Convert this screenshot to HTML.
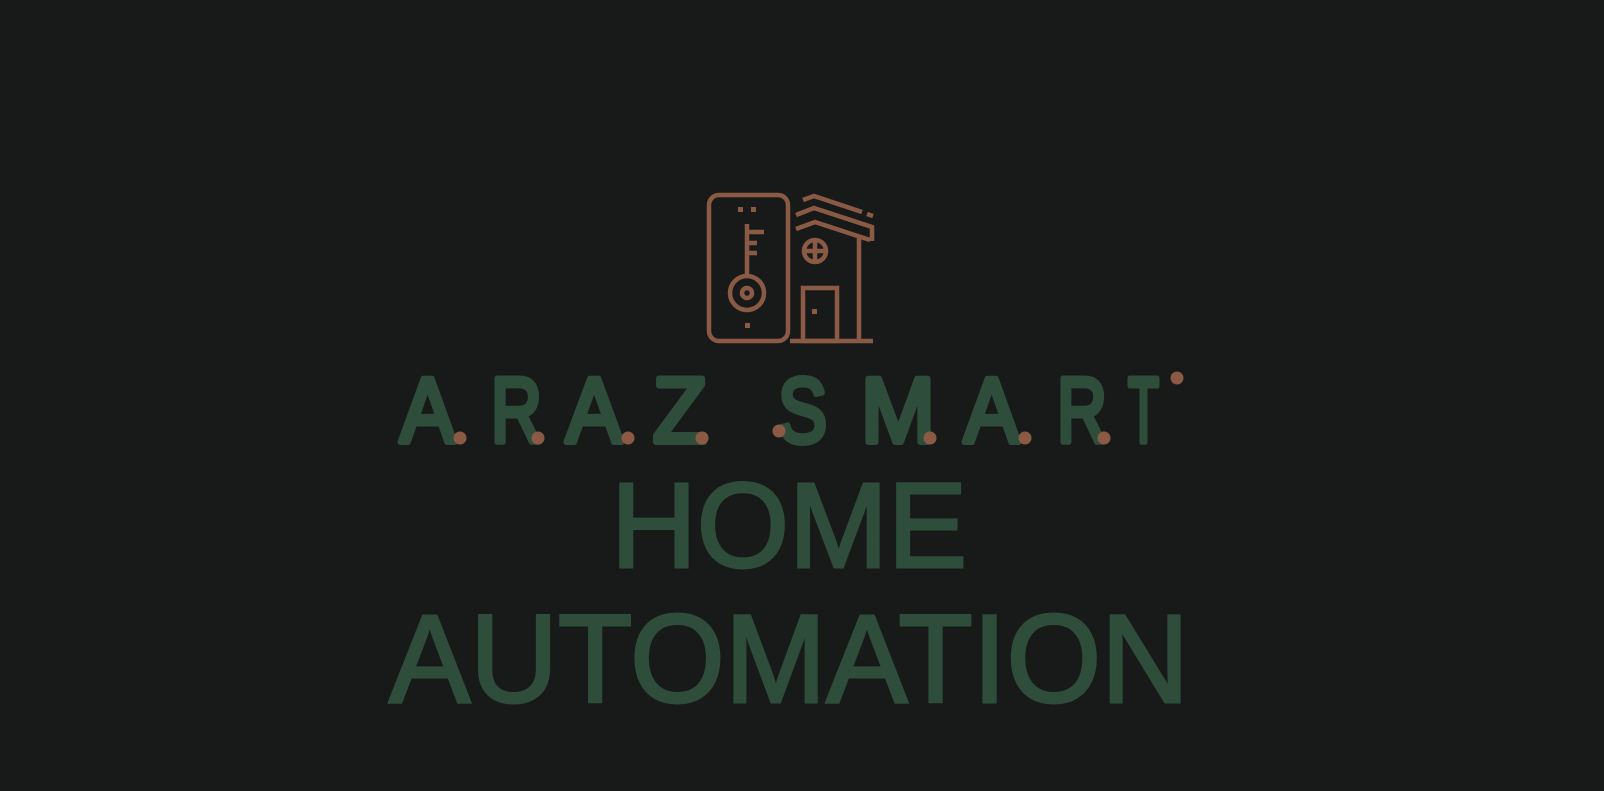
<!DOCTYPE html>
<html><head><style>
html,body{margin:0;padding:0;background:#181a19;}
svg{display:block}
</style></head><body>
<svg width="1604" height="791" viewBox="0 0 1604 791" xmlns="http://www.w3.org/2000/svg">
<rect width="1604" height="791" fill="#181a19"/>
<g stroke="#8b5a45" stroke-width="4.5" fill="none">
<rect x="709" y="195" width="79" height="146" rx="10"/>
<line x1="747" y1="224" x2="747" y2="276"/>
<line x1="747" y1="232" x2="764" y2="232"/>
<line x1="747" y1="243" x2="757" y2="243"/>
<line x1="747" y1="253" x2="757" y2="253"/>
<circle cx="747" cy="293" r="17"/>
<circle cx="747" cy="293" r="5"/>
<polyline points="803,200 814,196 862,212"/>
<line x1="867" y1="214" x2="873" y2="216"/>
<polyline points="796,215 814,208 872,227 872,241"/>
<polyline points="796,229 815,222 870,240"/>
<line x1="859" y1="236" x2="859" y2="341"/>
<line x1="790" y1="341" x2="873" y2="341"/>
<rect x="803" y="288" width="34" height="53"/>
<circle cx="815" cy="251" r="11"/>
<line x1="804" y1="251" x2="826" y2="251"/>
<line x1="815" y1="240" x2="815" y2="262"/>
</g>
<g fill="#8b5a45">
<rect x="738" y="207" width="5" height="5"/>
<rect x="751" y="207" width="5" height="5"/>
<rect x="745" y="323" width="5" height="5"/>
<rect x="812" y="309" width="5" height="5"/>
</g>
<g fill="#2e4d3a" stroke="#2e4d3a" stroke-width="6" stroke-linejoin="round" stroke-linecap="round" font-family="Liberation Sans, sans-serif" font-size="92">
<text x="400" y="442" textLength="55" lengthAdjust="spacingAndGlyphs">A</text>
<text x="491" y="442" textLength="51" lengthAdjust="spacingAndGlyphs">R</text>
<text x="566" y="442" textLength="56" lengthAdjust="spacingAndGlyphs">A</text>
<text x="653" y="442" textLength="54" lengthAdjust="spacingAndGlyphs">Z</text>
<text x="778" y="442" textLength="49" lengthAdjust="spacingAndGlyphs">S</text>
<text x="861" y="442" textLength="74" lengthAdjust="spacingAndGlyphs">M</text>
<text x="964" y="442" textLength="55" lengthAdjust="spacingAndGlyphs">A</text>
<text x="1057" y="442" textLength="50" lengthAdjust="spacingAndGlyphs">R</text>
<text x="1128" y="442" textLength="31" lengthAdjust="spacingAndGlyphs">T</text>
</g>
<g fill="#8b5a45">
<circle cx="460" cy="438" r="6.5"/><circle cx="538" cy="438" r="6.5"/>
<circle cx="628" cy="438" r="6.5"/><circle cx="702" cy="438" r="6.5"/>
<circle cx="779" cy="431" r="6.5"/><circle cx="930" cy="438" r="6.5"/>
<circle cx="1025" cy="438" r="6.5"/><circle cx="1104" cy="438" r="6.5"/>
<circle cx="1177" cy="378" r="6.5"/>
</g>
<g fill="#2e4d3a" stroke="#2e4d3a" stroke-width="3" font-family="Liberation Sans, sans-serif">
<text x="611" y="567" font-size="121" textLength="356" lengthAdjust="spacingAndGlyphs">HOME</text>
<text x="389" y="702" font-size="125" textLength="800" lengthAdjust="spacingAndGlyphs">AUTOMATION</text>
</g>
</svg>
</body></html>
